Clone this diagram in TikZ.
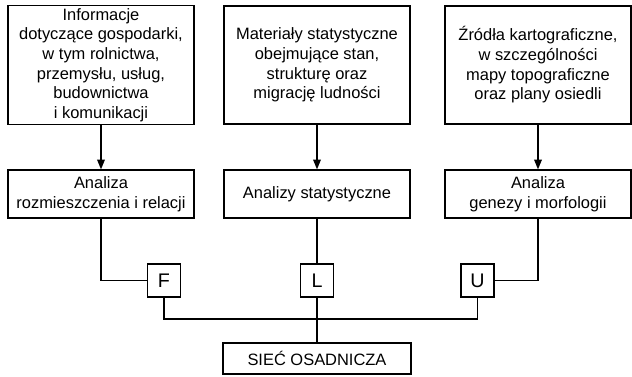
\documentclass[tikz,border=0pt]{standalone}
\usepackage{fontspec}
\setmainfont{Liberation Sans}
\usetikzlibrary{arrows.meta}

\begin{document}
\begin{tikzpicture}[x=0.025cm,y=-0.025cm,
    box/.style={draw,line width=0.9pt,align=center,inner sep=2pt,
        minimum width=4.65cm,font=\fontsize{11.7}{14}\selectfont},
    srcbox/.style={box,minimum height=2.95cm},
    anbox/.style={box,minimum height=1.2cm},
    letbox/.style={draw,line width=0.9pt,minimum size=0.825cm,inner sep=0pt,
        font=\fontsize{14}{16}\selectfont},
    arr/.style={line width=0.9pt,-{Triangle[length=7pt,width=5.5pt]}},
    link/.style={line width=0.9pt}]
    \useasboundingbox (0,0) rectangle (632,376);

    % sources
    \node[srcbox] (info) at (101,65) {Informacje\\dotyczące gospodarki,\\w tym rolnictwa,\\przemysłu, usług,\\budownictwa\\i komunikacji};
    \node[srcbox] (stat) at (317,65) {Materiały statystyczne\\obejmujące stan,\\strukturę oraz\\migrację ludności};
    \node[srcbox] (kart) at (538,65) {Źródła kartograficzne,\\w szczególności\\mapy topograficzne\\oraz plany osiedli};

    % analyses
    \node[anbox] (rozm) at (101,194) {Analiza\\rozmieszczenia i relacji};
    \node[anbox] (anst) at (317,194) {Analizy statystyczne};
    \node[anbox] (gen) at (538,194) {Analiza\\genezy i morfologii};

    \node[letbox] (F) at (164,280.5) {F};
    \node[letbox] (L) at (317,280.5) {L};
    \node[letbox] (U) at (477.5,280.5) {U};

    \node[box,minimum width=4.7cm,minimum height=0.775cm] (siec) at (317,358.5) {SIEĆ OSADNICZA};
    \coordinate (bus) at (317,319);

    \draw[arr](info)--(rozm);
    \draw[arr](stat)--(anst);
    \draw[arr](kart)--(gen);

    \draw[link](rozm.south)|-(F.west);
    \draw[link](gen.south)|-(U.east);
    \draw[link](anst)--(L);
    \draw[link](L)--(siec);
    \draw[link](F.south)|-(bus)-|(U.south);
\end{tikzpicture}
\end{document}
